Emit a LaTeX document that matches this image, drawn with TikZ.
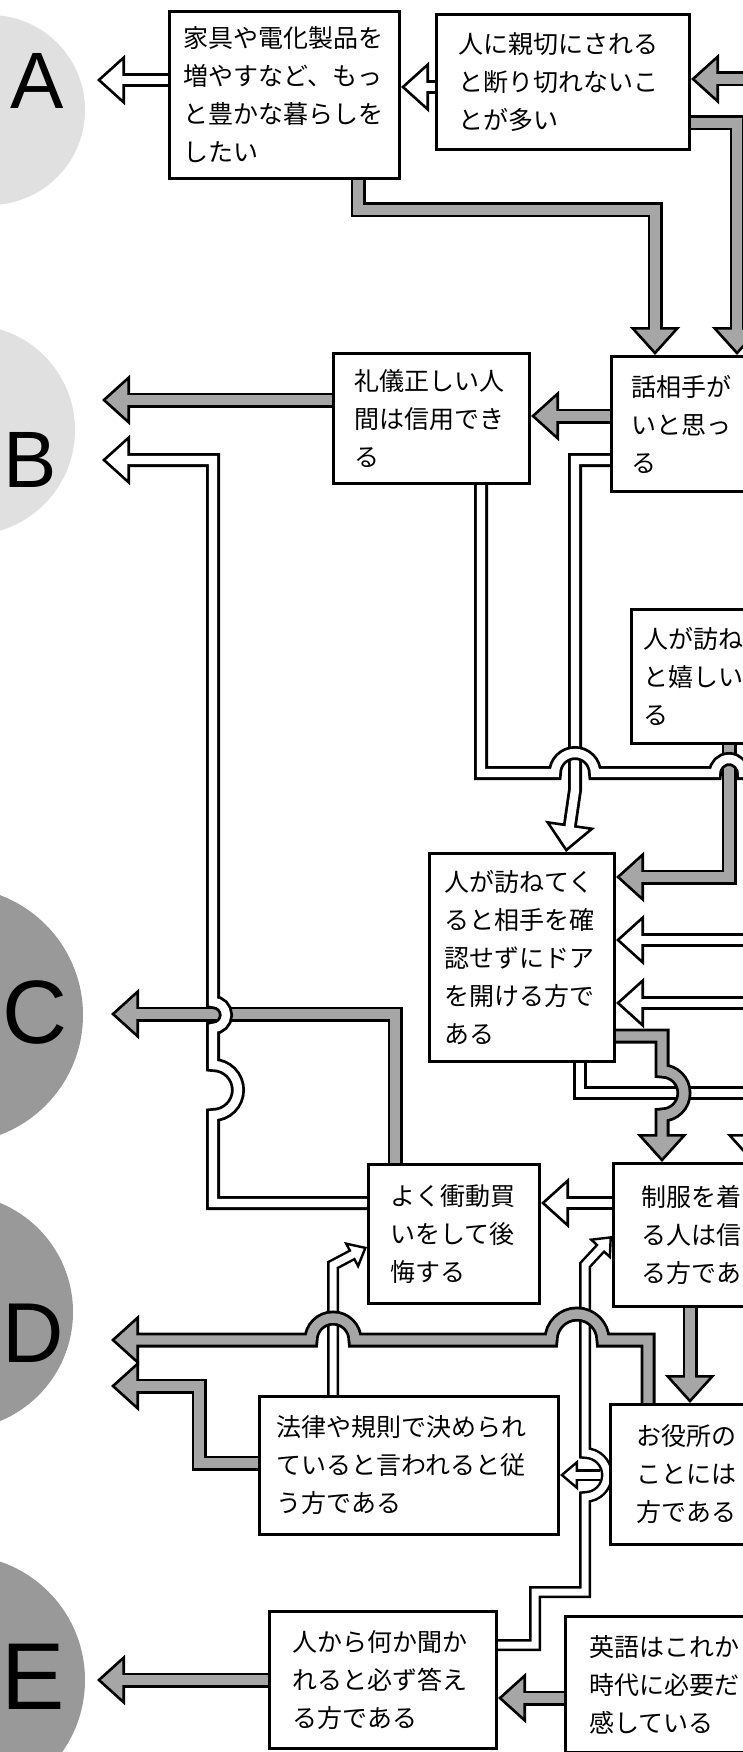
\documentclass[tikz,border=0pt]{standalone}
\usepackage{fontspec}
\setmainfont{Liberation Sans}
\newfontfamily\jpfont{Noto Sans CJK JP}
\usetikzlibrary{arrows.meta, backgrounds}
\colorlet{shade}{black!35}

\begin{document}
\begin{tikzpicture}[
    x=1pt, y=-1pt,
    card/.style={
        draw,
        line width=3pt,
        fill=white,
        anchor=north west,
        align=left,
        inner ysep=4pt,
        font=\jpfont\fontsize{25}{38}\selectfont,
    },
    letter/.style={
        inner sep=0pt,
    },
    faint/.style={fill=black!12},
    dark/.style={fill=black!40},
    noarrow/.style={
        draw=black,
        line width=14pt,
        -{Triangle[length=28pt, width=50pt, line width=2.6pt, fill=white]},
        postaction={draw=white, line width=8.4pt, arrows=-, shorten >=20pt},
    },
    nostub/.style={
        draw=black,
        line width=12pt,
        -{Triangle[length=18pt, width=30pt, line width=2.4pt, fill=white]},
        postaction={draw=white, line width=7pt, arrows=-, shorten >=12pt},
    },
    yesarrow/.style={
        draw=black,
        line width=15pt,
        -{Triangle[length=28pt, width=50pt, line width=2.6pt, fill=shade]},
        postaction={draw=shade, line width=9.4pt, arrows=-, shorten >=20pt},
    },
]
    \useasboundingbox (0,0) rectangle (743,1752);

    % Boxes
    \node[card, minimum width=230pt, minimum height=167pt, text width=202pt, inner xsep=14pt] (box1) at (168,10)
        {家具や電化製品を\\増やすなど、もっ\\と豊かな暮らしを\\したい};
    \node[card, minimum width=253pt, minimum height=135pt, text width=209pt, inner xsep=22pt] (box2) at (435,13)
        {人に親切にされる\\と断り切れないこ\\とが多い};
    \node[card, minimum width=196pt, minimum height=130pt, text width=154pt, inner xsep=21pt] (box3) at (332,352)
        {礼儀正しい人\\間は信用でき\\る};
    \node[card, minimum width=300pt, minimum height=135pt, text width=260pt, inner xsep=20pt] (box4) at (610,355)
        {話相手が\\いと思っ\\る};
    \node[card, minimum width=300pt, minimum height=134pt, text width=276pt, inner xsep=12pt] (box5) at (630,608)
        {人が訪ね\\と嬉しい\\る};
    \node[card, minimum width=185pt, minimum height=208pt, text width=155pt, inner xsep=15pt] (box6) at (428,852)
        {人が訪ねてく\\ると相手を確\\認せずにドア\\を開ける方で\\ある};
    \node[card, minimum width=171pt, minimum height=139pt, text width=127pt, inner xsep=22pt] (box7) at (367,1163)
        {よく衝動買\\いをして後\\悔する};
    \node[card, minimum width=300pt, minimum height=143pt, text width=244pt, inner xsep=28pt] (box8) at (612,1162)
        {制服を着\\る人は信\\る方であ};
    \node[card, minimum width=299pt, minimum height=138pt, text width=265pt, inner xsep=17pt] (box9) at (258,1395)
        {法律や規則で決められ\\ていると言われると従\\う方である};
    \node[card, minimum width=300pt, minimum height=140pt, text width=248pt, inner xsep=26pt] (box10) at (609,1403)
        {お役所の\\ことには\\方である};
    \node[card, minimum width=227pt, minimum height=137pt, text width=181pt, inner xsep=23pt] (box11) at (268,1610)
        {人から何か聞か\\れると必ず答え\\る方である};
    \node[card, minimum width=300pt, minimum height=136pt, text width=252pt, inner xsep=24pt] (box12) at (564,1615)
        {英語はこれか\\時代に必要だ\\感している};

    % Result letters
    \node[letter, font=\fontsize{80}{80}\selectfont] (letA) at (37,81) {A};
    \node[letter, font=\fontsize{80}{80}\selectfont] (letB) at (30,460) {B};
    \node[letter, font=\fontsize{90}{90}\selectfont] (letC) at (35,1013) {C};
    \node[letter, font=\fontsize{85}{85}\selectfont] (letD) at (33,1333) {D};
    \node[letter, font=\fontsize{95}{95}\selectfont] (letE) at (33,1677) {E};

    % Free ends
    \coordinate (tipA) at (97,80);
    \coordinate (tipB1) at (102,400);
    \coordinate (tipB2) at (102,460);
    \coordinate (tipC) at (111,1014);
    \coordinate (tipD1) at (111,1340);
    \coordinate (tipD2) at (111,1386);
    \coordinate (tipE) at (97,1680);
    \coordinate (inA) at (775,79);
    \coordinate (outB) at (800,773);
    \coordinate (inC1) at (775,940);
    \coordinate (inC2) at (775,1003);
    \coordinate (fork) at (600,1475);

    \begin{scope}[on background layer]
        \fill[white] (0,0) rectangle (743,1752);
        \fill[faint] (-10,110) circle[radius=95];
        \fill[faint] (-30,430) circle[radius=105];
        \fill[dark] (-45,1015) circle[radius=128];
        \fill[dark] (-45,1312) circle[radius=118];
        \fill[dark] (-40,1680) circle[radius=125];

        % Arrows that others hop over
        \draw[yesarrow] (box3.west |- 0,400) -- (tipB1);
        \draw[yesarrow] (box7.north -| 395,0) -- (395,1014) -- (tipC);
        \draw[yesarrow] (box5.south -| 729,0) -- (729,877) -- (box6.east |- 0,877);
        \draw[noarrow] (box4.west |- 0,460) -- (575,460) -- (575,790) -- (box6.north -| 566,0);
        \draw[noarrow] (box6.south -| 580,0) -- (580,1093) -- (752,1093) -- (box8.north -| 752,0);
        \draw[nostub] (box9.north -| 333,0) -- (333,1265) -- (box7.west |- 0,1247);
        \draw[nostub] (box11.east |- 0,1645) -- (535,1645) -- (535,1592) -- (585,1592) -- (585,1497)
            arc[start angle=90, end angle=-90, radius=22] -- (585,1265) -- (box8.west |- 0,1236);
        \draw[nostub] (fork) -- (box9.east |- 0,1475);

        % Hopping arrows
        \draw[noarrow] (box3.south -| 481,0) -- (481,773) -- (555,773)
            arc[start angle=180, end angle=360, radius=20] -- (715,773)
            arc[start angle=180, end angle=360, radius=14] -- (outB);
        \draw[noarrow] (box7.west |- 0,1203) -- (213,1203) -- (213,1115)
            arc[start angle=90, end angle=-90, radius=25] -- (213,1028)
            arc[start angle=90, end angle=-90, radius=13] -- (213,460) -- (tipB2);
        \draw[yesarrow] (box6.east |- 0,1036) -- (662,1036) -- (662,1071)
            arc[start angle=-90, end angle=90, radius=22] -- (box8.north -| 662,0);
        \draw[yesarrow] (box10.north -| 648,0) -- (648,1340) -- (603,1340)
            arc[start angle=0, end angle=-180, radius=26] -- (355,1340)
            arc[start angle=0, end angle=-180, radius=22] -- (tipD1);

        % Other arrows
        \draw[noarrow] (box1.west |- 0,80) -- (tipA);
        \draw[noarrow] (box2.west |- 0,87) -- (box1.east |- 0,87);
        \draw[yesarrow] (inA) -- (box2.east |- 0,79);
        \draw[yesarrow] (box1.south -| 358,0) -- (358,210) -- (655,210) -- (box4.north -| 655,0);
        \draw[yesarrow] (box2.east |- 0,123) -- (737,123) -- (box4.north -| 737,0);
        \draw[yesarrow] (box4.west |- 0,416) -- (box3.east |- 0,416);
        \draw[noarrow] (inC1) -- (box6.east |- 0,940);
        \draw[noarrow] (inC2) -- (box6.east |- 0,1003);
        \draw[noarrow] (box8.west |- 0,1203) -- (box7.east |- 0,1203);
        \draw[yesarrow] (box8.south -| 690,0) -- (box10.north -| 690,0);
        \draw[yesarrow] (box9.west |- 0,1463) -- (199,1463) -- (199,1386) -- (tipD2);
        \draw[yesarrow] (box12.west |- 0,1698) -- (box11.east |- 0,1698);
        \draw[yesarrow] (box11.west |- 0,1680) -- (tipE);
    \end{scope}
\end{tikzpicture}
\end{document}
